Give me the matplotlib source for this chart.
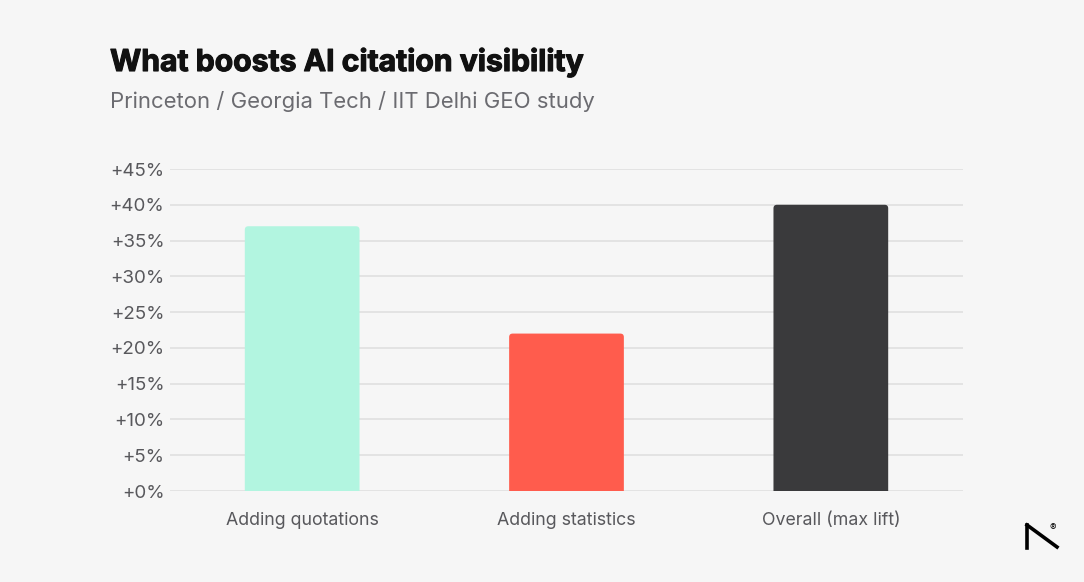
import matplotlib.pyplot as plt
import matplotlib.patheffects as pe
from matplotlib.patches import FancyBboxPatch
from matplotlib.ticker import FuncFormatter

categories = ['Adding quotations', 'Adding statistics', 'Overall (max lift)']
lift_pct = [37, 22, 40]
bar_colors = ['#b2f5e0', '#ff5c4d', '#3a3a3c']
y_ticks = [0, 5, 10, 15, 20, 25, 30, 35, 40, 45]

bg = '#f6f6f6'
W, H = 1084, 582

plt.rcParams['font.family'] = ['Inter', 'DejaVu Sans']

fig = plt.figure(figsize=(W / 100, H / 100), dpi=100, facecolor=bg)
ax = fig.add_axes([170 / W, 1 - 491 / H, (963 - 170) / W, (491 - 169) / H])
ax.set_facecolor(bg)

xs = list(range(len(categories)))
bars = ax.bar(xs, lift_pct, width=0.434, color=bar_colors, zorder=2)

# swap plain rectangles for ones with slightly rounded top corners
px_x = 1 / 265.0
px_y = 45 / 322.0
for rect, color in zip(bars, bar_colors):
    rect.set_visible(False)
    r = 3.5 * px_x
    patch = FancyBboxPatch((rect.get_x(), -2), rect.get_width(), rect.get_height() + 2,
                           boxstyle=f'round,pad=0,rounding_size={r}',
                           mutation_aspect=px_y / px_x,
                           facecolor=color, edgecolor='none', zorder=2)
    ax.add_patch(patch)

ax.set_xlim(-0.5, 2.5)
ax.set_ylim(0, 45)
ax.set_yticks(y_ticks)
ax.yaxis.set_major_formatter(FuncFormatter(lambda v, _: f'+{v:.0f}%'))
ax.set_xticks(xs)
ax.set_xticklabels(categories)
ax.grid(axis='y', color='#e2e2e2', linewidth=1.3, zorder=0)
ax.set_axisbelow(True)
for s in ax.spines.values():
    s.set_visible(False)
ax.tick_params(axis='y', length=0, pad=4, labelsize=13.5, labelcolor='#58585c')
ax.tick_params(axis='x', length=0, pad=15, labelsize=12.8, labelcolor='#58585c')

title = fig.text(110 / W, 1 - 71 / H, 'What boosts AI citation visibility', fontsize=21.7,
                 fontweight='bold', color='#111111', ha='left', va='baseline')
title.set_path_effects([pe.withStroke(linewidth=0.8, foreground='#111111')])
fig.text(110 / W, 1 - 108 / H, 'Princeton / Georgia Tech / IIT Delhi GEO study', fontsize=15.9,
         color='#6b6b70', ha='left', va='baseline')

# corner logo
fig.add_artist(plt.Line2D([1027 / W, 1027 / W], [1 - 548 / H, 1 - 525 / H],
                          color='black', linewidth=2.6, transform=fig.transFigure))
fig.add_artist(plt.Line2D([1027 / W, 1057 / W], [1 - 525 / H, 1 - 547 / H],
                          color='black', linewidth=2.6, transform=fig.transFigure))
fig.text(1053 / W, 1 - 528 / H, '®', fontsize=7, color='black', ha='center', va='center')

fig.savefig('out.png', dpi=100, facecolor=bg)
